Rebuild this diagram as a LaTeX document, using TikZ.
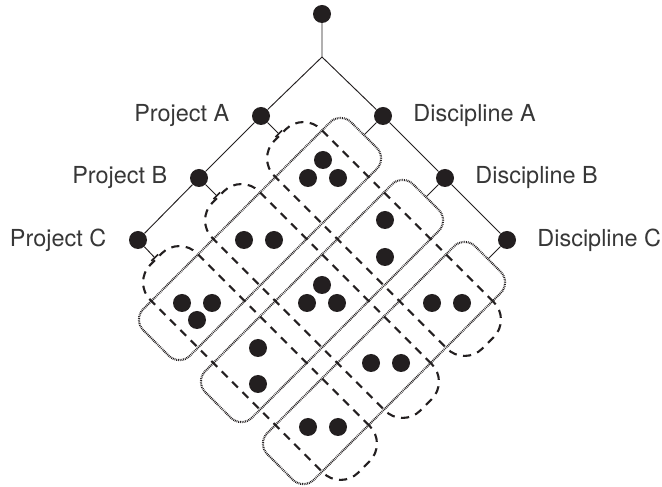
\documentclass[tikz,border=0pt]{standalone}
\usepackage{fontspec}
\setmainfont{TeX Gyre Heros}
\usepackage{xcolor}
\definecolor{dotblack}{RGB}{35,31,32}
\definecolor{lblgray}{RGB}{55,55,55}
\usetikzlibrary{arrows.meta, positioning}

\begin{document}
\begin{tikzpicture}[x=0.03cm, y=-0.03cm,
  dot/.style={circle, fill=dotblack, inner sep=0pt, minimum size=0.54cm},
  lbl/.style={font=\fontsize{20}{24}\selectfont, text=lblgray, inner sep=0pt},
  edge/.style={draw=dotblack, line width=0.8pt},
  projbox/.style={rectangle, draw=dotblack, rotate=-45, dash pattern=on 7pt off 5.5pt,
                  line width=1.8pt, rounded corners=0.75cm,
                  minimum width=8.82cm, minimum height=1.98cm},
  discbox/.style={rectangle, draw=dotblack, rotate=45, dash pattern=on 0.7pt off 0.8pt,
                  line width=1.8pt, rounded corners=0.45cm,
                  minimum width=8.82cm, minimum height=1.98cm}
]
\useasboundingbox (0,0) rectangle (662,487);

% Tree
\node[dot] (root) at (322,14) {};
\coordinate (jn) at (322,57);
\node[dot] (pa) at (261,116) {};
\node[dot] (pb) at (199,178) {};
\node[dot] (pc) at (138,240) {};
\node[dot] (da) at (383,116) {};
\node[dot] (db) at (445,178) {};
\node[dot] (dc) at (507,240) {};
\draw[edge] (root) -- (jn) -- (pa) -- (pb) -- (pc);
\draw[edge] (jn) -- (da) -- (db) -- (dc);

% Labels
\node[lbl, left=0.67cm of pa] {Project A};
\node[lbl, left=0.67cm of pb] {Project B};
\node[lbl, left=0.67cm of pc] {Project C};
\node[lbl, right=0.63cm of da] {Discipline A};
\node[lbl, right=0.63cm of db] {Discipline B};
\node[lbl, right=0.63cm of dc] {Discipline C};

% Project rows (dashed)
\node[projbox] (prA) at (384,239) {};
\node[projbox] (prB) at (322,301) {};
\node[projbox] (prC) at (260,363) {};

% Discipline columns (dotted)
\node[discbox] (diA) at (260,239) {};
\node[discbox] (diB) at (322,301) {};
\node[discbox] (diC) at (384,363) {};

% Stubs
\draw[edge, -{Bar[width=8pt, line width=1.4pt]}] (pa) -- (prA.west);
\draw[edge, -{Bar[width=8pt, line width=1.4pt]}] (pb) -- (prB.west);
\draw[edge, -{Bar[width=8pt, line width=1.4pt]}] (pc) -- (prC.west);
\draw[edge] (da) -- (diA.east);
\draw[edge] (db) -- (diB.east);
\draw[edge] (dc) -- (diC.east);

% Cell A/A
\node[dot] (aa1) at (323,160) {};
\node[dot] (aa2) at (308,178) {};
\node[dot] (aa3) at (338,178) {};
% Cell A/B
\node[dot] (ab1) at (385,220) {};
\node[dot] (ab2) at (385,257) {};
% Cell A/C
\node[dot] (ac1) at (432,303) {};
\node[dot] (ac2) at (462,303) {};
% Cell B/A
\node[dot] (ba1) at (244,240) {};
\node[dot] (ba2) at (274,240) {};
% Cell B/B
\node[dot] (bb1) at (322,285) {};
\node[dot] (bb2) at (307,303) {};
\node[dot] (bb3) at (337,303) {};
% Cell B/C
\node[dot] (bc1) at (371,363) {};
\node[dot] (bc2) at (401,363) {};
% Cell C/A
\node[dot] (ca1) at (182,303) {};
\node[dot] (ca2) at (212,303) {};
\node[dot] (ca3) at (197,320) {};
% Cell C/B
\node[dot] (cb1) at (258,348) {};
\node[dot] (cb2) at (258,384) {};
% Cell C/C
\node[dot] (cc1) at (308,427) {};
\node[dot] (cc2) at (338,427) {};
\end{tikzpicture}
\end{document}
